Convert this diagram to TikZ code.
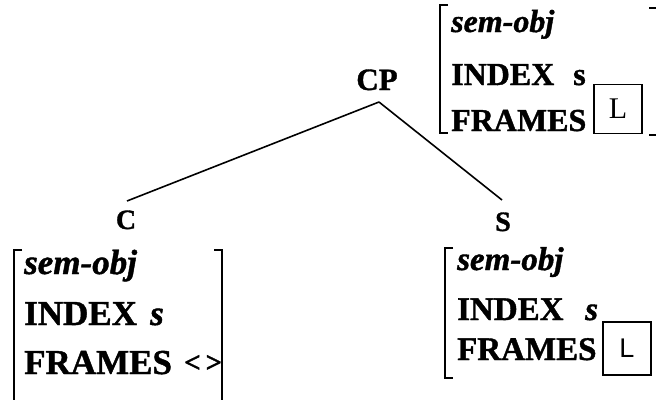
\documentclass[tikz,border=0pt]{standalone}
\usepackage{fontspec}
\setmainfont{Liberation Serif}[BoldFeatures={FakeBold=1.2},BoldItalicFeatures={FakeBold=1.2}]
\setsansfont{Liberation Sans}
\begin{document}
\begin{tikzpicture}[x=1pt,y=-1pt,
  txtA/.style={anchor=base west, inner sep=0, font=\fontsize{33}{36}\selectfont\bfseries},
  txtT/.style={anchor=base west, inner sep=0, font=\fontsize{32}{36}\selectfont\bfseries},
  txtB/.style={anchor=base west, inner sep=0, font=\fontsize{35}{38}\selectfont\bfseries},
  cat/.style={anchor=base, inner sep=0, font=\fontsize{#1}{#1}\selectfont\bfseries},
  brk/.style={line width=1.8pt},
  edge/.style={line width=1.6pt},
  lbox/.style={draw, line width=1.3pt, inner sep=0, minimum width=48pt, minimum height=49pt}]
\useasboundingbox (0,0) rectangle (656,399);
% tree
\node[cat=31] (CP) at (377,90) {CP};
\node[cat=28] (C) at (126,229) {C};
\node[cat=28] (S) at (503,231) {S};
\draw[edge] ([xshift=2pt,yshift=-12pt]CP.base) -- ([xshift=1pt,yshift=28pt]C.base);
\draw[edge] ([xshift=2pt,yshift=-12pt]CP.base) -- ([xshift=-1pt,yshift=31pt]S.base);
% top-right AVM
\draw[brk] (448,5) -- (440,5) -- (440,133) -- (448,133);
\draw[brk] (649,8) -- (657,8) -- (657,135) -- (649,135);
\node[txtT] (t1) at (451,32) {\itshape sem-obj};
\node[txtT] (t2) at (451,85) {INDEX};
\node[txtT] (t2s) at (573,85) {s};
\node[txtT] (t3) at (451,131) {FRAMES};
\node[lbox] (tb) at (618,109) {\fontsize{30}{30}\selectfont L};
% bottom-left AVM
\draw[brk] (22,250) -- (14,250) -- (14,402);
\draw[brk] (214,250) -- (222,250) -- (222,402);
\node[txtB] (l1) at (24,274) {\itshape sem-obj};
\node[txtB] (l2) at (24,325) {INDEX};
\node[txtB] (l2s) at (150,325) {\itshape s};
\node[txtB] (l3) at (24,374) {FRAMES};
\node[txtB, font=\fontsize{29}{30}\selectfont\bfseries] (l3b) at (184,372) {<\,>};
% bottom-right AVM
\draw[brk] (453,248) -- (445,248) -- (445,378) -- (453,378);
\node[txtA] (r1) at (457,270) {\itshape sem-obj};
\node[txtA] (r2) at (457,320) {INDEX};
\node[txtA] (r2s) at (585,320) {\itshape s};
\node[txtA] (r3) at (457,360) {FRAMES};
\node[lbox, minimum width=48pt, minimum height=53pt] (rb) at (627,348.5) {\fontsize{27}{27}\selectfont\sffamily L};
\end{tikzpicture}
\end{document}
